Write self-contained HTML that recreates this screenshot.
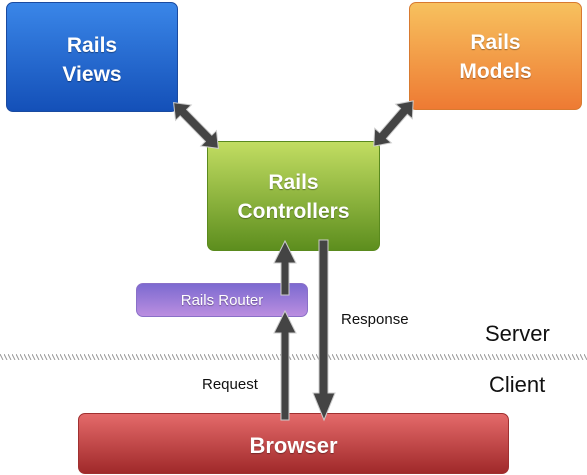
<!DOCTYPE html>
<html><head><style>
body{margin:0;width:587px;height:475px;background:#fff;position:relative;overflow:hidden;font-family:"Liberation Sans",sans-serif}
.b{position:absolute;border-radius:7px;color:#fff;text-align:center;display:flex;align-items:center;justify-content:center;text-shadow:0 1px 1px rgba(0,0,0,.35);box-sizing:border-box;font-weight:bold}
.t{position:absolute;color:#111}
</style></head><body>
<div class="b" style="left:6px;top:2px;width:172px;height:110px;background:linear-gradient(#3a86e8,#1450b8);border:1px solid #1a4aa0;font-size:21px;line-height:29px;padding-top:6px">Rails<br>Views</div>
<div class="b" style="left:409px;top:2px;width:173px;height:108px;background:linear-gradient(#f7c15e,#ee7a33);border:1px solid #d87a30;font-size:21px;line-height:29px;padding-top:2px">Rails<br>Models</div>
<div class="b" style="left:207px;top:141px;width:173px;height:110px;background:linear-gradient(#c2dd62,#5d8e1e);border:1px solid #5a8a1e;font-size:21px;line-height:29px;padding-top:2px">Rails<br>Controllers</div>
<div class="b" style="left:136px;top:283px;width:172px;height:34px;background:linear-gradient(#7c6ad0,#bb8ee0);border:1px solid #8a70c8;font-size:15px;font-weight:normal">Rails Router</div>
<div class="b" style="left:78px;top:413px;width:431px;height:61px;background:linear-gradient(#e46a6a,#a0292a);border:1px solid #a03030;font-size:22px;padding-top:4px">Browser</div>
<svg style="position:absolute;left:0;top:0" width="587" height="475">
<defs><pattern id="h" width="4" height="6" patternUnits="userSpaceOnUse"><line x1="0" y1="0" x2="3" y2="6" stroke="#999" stroke-width="1"/></pattern></defs>
<rect x="0" y="354" width="587" height="6" fill="url(#h)"/>
<g fill="#444" stroke="#ccc" stroke-width="1">
<polygon transform="translate(196,125.5) rotate(45.6)" points="-32,0 -18,-11 -18,-4.5 18,-4.5 18,-11 32,0 18,11 18,4.5 -18,4.5 -18,11"/>
<polygon transform="translate(393.5,123.5) rotate(131)" points="-30,0 -16,-11 -16,-4.5 16,-4.5 16,-11 30,0 16,11 16,4.5 -16,4.5 -16,11"/>
<polygon points="285,241 296,263 289,263 289,295 281,295 281,263 274,263"/>
<polygon points="285,311 296,333 289,333 289,420 281,420 281,333 274,333"/>
<polygon points="319,240 328,240 328,393 335,393 324,420 313,393 319,393"/>
</g>
</svg>
<div class="t" style="left:341px;top:311px;font-size:15px">Response</div>
<div class="t" style="left:202px;top:376px;font-size:15px">Request</div>
<div class="t" style="left:485px;top:321px;font-size:22px">Server</div>
<div class="t" style="left:489px;top:372px;font-size:22px">Client</div>
</body></html>
